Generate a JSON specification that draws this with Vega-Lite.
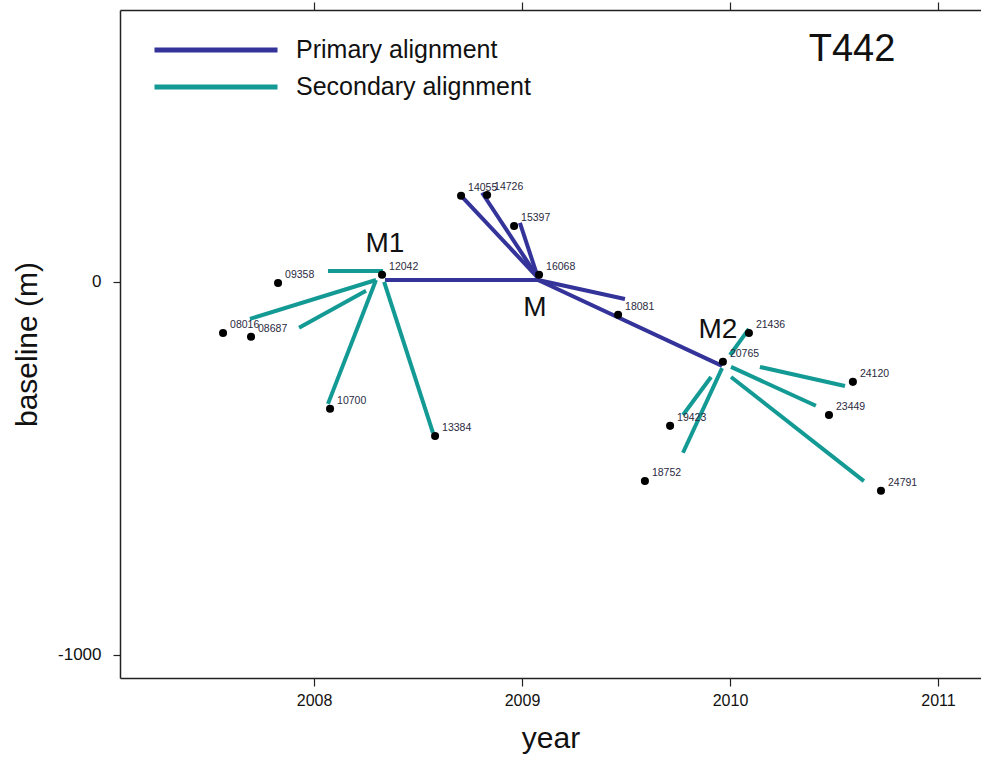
{
  "$schema": "https://vega.github.io/schema/vega-lite/v6.json",
  "width": 861,
  "height": 668,
  "autosize": "none",
  "padding": {"left": 120, "top": 10, "right": 0, "bottom": 81},
  "background": "white",
  "config": {
    "view": {"stroke": null},
    "font": "Liberation Sans",
    "axis": {"grid": false, "domainColor": "#222", "domainWidth": 1.5, "tickColor": "#222", "tickWidth": 1.2, "labelColor": "#111", "titleColor": "#111", "titleFontWeight": "normal", "labelFont": "Liberation Sans", "titleFont": "Liberation Sans"}
  },
  "resolve": {"axis": {"x": "independent"}},
  "datasets": {
    "points": [
      {"orbit": "08016", "year": 2007.5625, "baseline": -137},
      {"orbit": "08687", "year": 2007.697, "baseline": -147},
      {"orbit": "09358", "year": 2007.827, "baseline": -3},
      {"orbit": "10700", "year": 2008.077, "baseline": -340},
      {"orbit": "12042", "year": 2008.327, "baseline": 19},
      {"orbit": "13384", "year": 2008.582, "baseline": -413},
      {"orbit": "14055", "year": 2008.707, "baseline": 231},
      {"orbit": "14726", "year": 2008.832, "baseline": 233},
      {"orbit": "15397", "year": 2008.962, "baseline": 150},
      {"orbit": "16068", "year": 2009.082, "baseline": 19},
      {"orbit": "18081", "year": 2009.462, "baseline": -88},
      {"orbit": "18752", "year": 2009.591, "baseline": -534},
      {"orbit": "19423", "year": 2009.712, "baseline": -386},
      {"orbit": "20765", "year": 2009.966, "baseline": -214},
      {"orbit": "21436", "year": 2010.091, "baseline": -137},
      {"orbit": "23449", "year": 2010.476, "baseline": -357},
      {"orbit": "24120", "year": 2010.591, "baseline": -268},
      {"orbit": "24791", "year": 2010.726, "baseline": -560}
    ],
    "segments": [
      {"type": "Primary alignment", "x1": 2008.341, "y1": 5, "x2": 2009.082, "y2": 5},
      {"type": "Primary alignment", "x1": 2008.712, "y1": 228, "x2": 2009.077, "y2": 11},
      {"type": "Primary alignment", "x1": 2008.808, "y1": 239, "x2": 2009.077, "y2": 11},
      {"type": "Primary alignment", "x1": 2008.99, "y1": 158, "x2": 2009.077, "y2": 11},
      {"type": "Primary alignment", "x1": 2009.077, "y1": 5, "x2": 2009.495, "y2": -46},
      {"type": "Primary alignment", "x1": 2009.077, "y1": 5, "x2": 2009.962, "y2": -225},
      {"type": "Secondary alignment", "x1": 2008.067, "y1": 29, "x2": 2008.332, "y2": 29},
      {"type": "Secondary alignment", "x1": 2007.692, "y1": -99, "x2": 2008.298, "y2": 5},
      {"type": "Secondary alignment", "x1": 2007.928, "y1": -123, "x2": 2008.25, "y2": -24},
      {"type": "Secondary alignment", "x1": 2008.067, "y1": -327, "x2": 2008.298, "y2": 5},
      {"type": "Secondary alignment", "x1": 2008.337, "y1": 0, "x2": 2008.572, "y2": -405},
      {"type": "Secondary alignment", "x1": 2010.0, "y1": -196, "x2": 2010.091, "y2": -126},
      {"type": "Secondary alignment", "x1": 2010.144, "y1": -228, "x2": 2010.553, "y2": -279},
      {"type": "Secondary alignment", "x1": 2010.005, "y1": -228, "x2": 2010.413, "y2": -332},
      {"type": "Secondary alignment", "x1": 2010.005, "y1": -255, "x2": 2010.644, "y2": -534},
      {"type": "Secondary alignment", "x1": 2009.909, "y1": -255, "x2": 2009.774, "y2": -357},
      {"type": "Secondary alignment", "x1": 2009.962, "y1": -231, "x2": 2009.774, "y2": -458}
    ],
    "masters": [
      {"label": "M1", "year": 2008.341, "baseline": 102},
      {"label": "M", "year": 2009.062, "baseline": -70},
      {"label": "M2", "year": 2009.942, "baseline": -129}
    ],
    "track": [
      {"label": "T442", "year": 2010.587, "baseline": 622}
    ]
  },
  "layer": [
    {
      "data": {"name": "segments"},
      "mark": {"type": "rule", "strokeWidth": 4, "strokeCap": "butt"},
      "encoding": {
        "x": {"field": "x1", "type": "quantitative", "scale": {"domain": [2007.067, 2011.207], "nice": false, "zero": false},
          "axis": {"orient": "bottom", "title": "year", "values": [2008, 2009, 2010, 2011], "format": "d", "domain": true, "tickSize": 8, "labelFontSize": 16, "labelPadding": 6, "titleFontSize": 30, "titlePadding": 15}},
        "x2": {"field": "x2"},
        "y": {"field": "y1", "type": "quantitative", "scale": {"domain": [-1062, 729], "nice": false, "zero": false},
          "axis": {"title": "baseline (m)", "values": [-1000, 0], "labelExpr": "'' + datum.value", "domain": true, "tickSize": 7, "labelFontSize": 17, "labelPadding": 12, "titleFontSize": 30, "titlePadding": 15}},
        "y2": {"field": "y2"},
        "color": {"field": "type", "type": "nominal",
          "scale": {"domain": ["Primary alignment", "Secondary alignment"], "range": ["#33339a", "#139a94"]},
          "legend": {"title": null, "orient": "none", "legendX": 78, "legendY": 22, "symbolType": "M-4,0H4", "symbolSize": 946, "symbolStrokeWidth": 5, "labelFontSize": 25, "labelLimit": 500, "labelColor": "#111", "labelOffset": 62, "rowPadding": 6, "padding": 0}}
      }
    },
    {
      "data": {"name": "segments"},
      "mark": {"type": "rule", "strokeWidth": 0},
      "encoding": {
        "x": {"field": "x1", "type": "quantitative", "axis": {"orient": "top", "title": null, "labels": false, "values": [2008, 2009, 2010, 2011], "tickSize": 8, "domain": true}},
        "x2": {"field": "x2"},
        "y": {"field": "y1", "type": "quantitative"},
        "y2": {"field": "y2"}
      }
    },
    {
      "data": {"name": "points"},
      "mark": {"type": "circle", "size": 65, "color": "black", "opacity": 1},
      "encoding": {
        "x": {"field": "year", "type": "quantitative", "axis": null},
        "y": {"field": "baseline", "type": "quantitative"}
      }
    },
    {
      "data": {"name": "points"},
      "mark": {"type": "text", "align": "left", "baseline": "middle", "dx": 7, "dy": -8, "fontSize": 10.5, "color": "#2a2a40"},
      "encoding": {
        "x": {"field": "year", "type": "quantitative", "axis": null},
        "y": {"field": "baseline", "type": "quantitative"},
        "text": {"field": "orbit"}
      }
    },
    {
      "data": {"name": "masters"},
      "mark": {"type": "text", "align": "center", "baseline": "middle", "fontSize": 28, "color": "#111"},
      "encoding": {
        "x": {"field": "year", "type": "quantitative", "axis": null},
        "y": {"field": "baseline", "type": "quantitative"},
        "text": {"field": "label"}
      }
    },
    {
      "data": {"name": "track"},
      "mark": {"type": "text", "align": "center", "baseline": "middle", "fontSize": 38, "color": "#111"},
      "encoding": {
        "x": {"field": "year", "type": "quantitative", "axis": null},
        "y": {"field": "baseline", "type": "quantitative"},
        "text": {"field": "label"}
      }
    }
  ]
}
